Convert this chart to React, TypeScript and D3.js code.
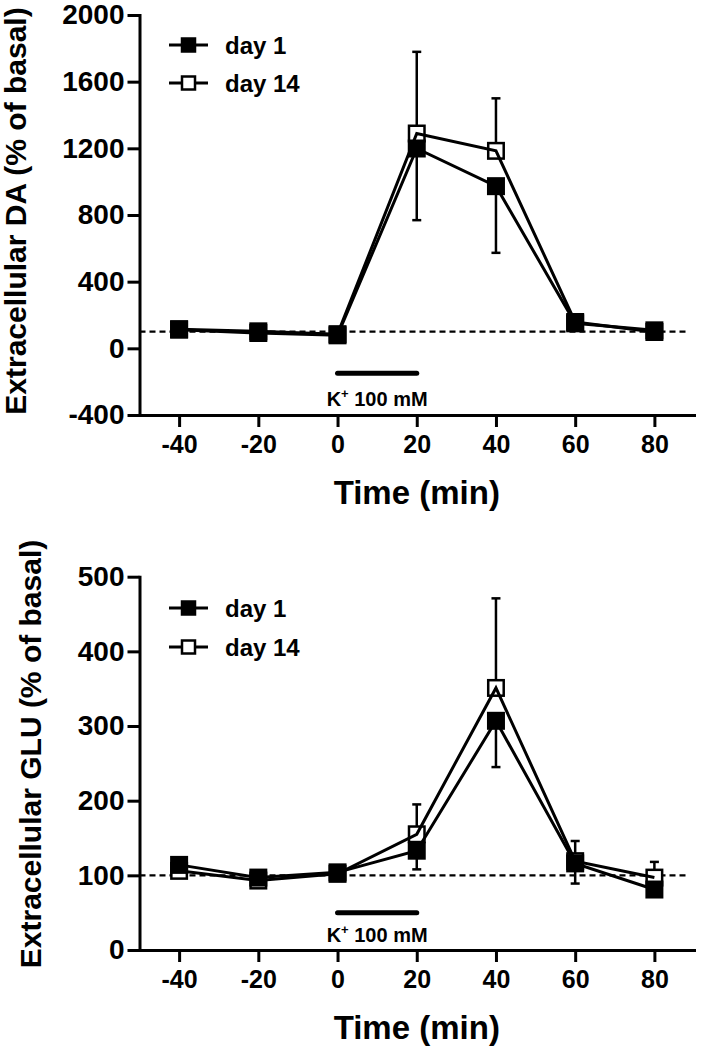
import React, { useEffect, useRef } from 'react';
import * as d3 from 'd3';

// ---------- data ----------
const timePoints = [-40, -20, 0, 20, 40, 60, 80];
const xTicks = [-40, -20, 0, 20, 40, 60, 80];
const xDomain = [-50, 90];
const seriesNames = ['day 1', 'day 14'];

// day 1 error bars are drawn downward, day 14 upward (as in the reference)
const daDay1 = [112, 92, 78, 1199, 973, 150, 108];
const daDay1Err = [20, 15, 15, 430, 400, 25, 15];
const daDay14 = [115, 102, 85, 1289, 1185, 158, 98];
const daDay14Err = [20, 15, 15, 490, 315, 25, 15];
const daTicks = [-400, 0, 400, 800, 1200, 1600, 2000];

const gluDay1 = [114, 97, 104, 133, 307, 116, 81];
const gluDay1Err = [6, 5, 5, 25, 62, 27, 8];
const gluDay14 = [106, 93, 102, 155, 351, 119, 97];
const gluDay14Err = [6, 5, 5, 40, 120, 27, 21];
const gluTicks = [0, 100, 200, 300, 400, 500];

const basal = 100;
const basalEnd = 88;
const kWindow = [0, 20];

const FONT = '"Liberation Sans", Arial, Helvetica, sans-serif';

interface PanelCfg {
  yDomain: [number, number];
  yRange: [number, number];
  yTicks: number[];
  title: string;
  titleX: number;
  titleY: number;
  kBarValue: number;
  kLabelOffset: number;
  legendY: [number, number];
  d1: number[];
  d1e: number[];
  d14: number[];
  d14e: number[];
}

const panels: PanelCfg[] = [
  {
    yDomain: [-400, 2000],
    yRange: [415, 15],
    yTicks: daTicks,
    title: 'Extracellular DA (% of basal)',
    titleX: 26,
    titleY: 211,
    kBarValue: -150,
    kLabelOffset: 9.5,
    legendY: [45, 83],
    d1: daDay1,
    d1e: daDay1Err,
    d14: daDay14,
    d14e: daDay14Err,
  },
  {
    yDomain: [0, 500],
    yRange: [950, 576.7],
    yTicks: gluTicks,
    title: 'Extracellular GLU (% of basal)',
    titleX: 41,
    titleY: 754,
    kBarValue: 50,
    kLabelOffset: 8.5,
    legendY: [608, 647],
    d1: gluDay1,
    d1e: gluDay1Err,
    d14: gluDay14,
    d14e: gluDay14Err,
  },
];

function drawPanel(svg: d3.Selection<SVGSVGElement, unknown, null, undefined>, cfg: PanelCfg) {
  const x = d3.scaleLinear().domain(xDomain).range([139.5, 694]);
  const y = d3.scaleLinear().domain(cfg.yDomain).range(cfg.yRange);
  const g = svg.append('g');
  const axisY = y(cfg.yDomain[0]);

  // basal dashed line
  g.append('line')
    .attr('x1', x(xDomain[0]))
    .attr('x2', x(basalEnd))
    .attr('y1', y(basal))
    .attr('y2', y(basal))
    .attr('stroke', '#000')
    .attr('stroke-width', 2.2)
    .attr('stroke-dasharray', '6,4');

  // K+ bar
  g.append('line')
    .attr('x1', x(kWindow[0]))
    .attr('x2', x(kWindow[1]))
    .attr('y1', y(cfg.kBarValue))
    .attr('y2', y(cfg.kBarValue))
    .attr('stroke', '#000')
    .attr('stroke-width', 5)
    .attr('stroke-linecap', 'round');

  const kt = g
    .append('text')
    .attr('x', x((kWindow[0] + kWindow[1]) / 2))
    .attr('y', axisY - cfg.kLabelOffset)
    .attr('text-anchor', 'middle')
    .attr('font-family', FONT)
    .attr('font-weight', 'bold')
    .attr('font-size', 20)
    .attr('fill', '#000');
  kt.append('tspan').text('K');
  kt.append('tspan').attr('font-size', 13).attr('dy', -8).text('+');
  kt.append('tspan').attr('dy', 8).text(' 100 mM');

  // axes
  const yAxis = d3
    .axisLeft(y)
    .tickValues(cfg.yTicks)
    .tickSize(12)
    .tickSizeOuter(0)
    .tickPadding(3)
    .tickFormat((d) => String(d));
  const gy = g.append('g').attr('transform', `translate(${x(xDomain[0])},0)`).call(yAxis);
  const xAxis = d3
    .axisBottom(x)
    .tickValues(xTicks)
    .tickSize(12)
    .tickSizeOuter(0)
    .tickPadding(8)
    .tickFormat((d) => String(d));
  const gx = g.append('g').attr('transform', `translate(0,${axisY})`).call(xAxis);

  [gy, gx].forEach((ga) => {
    ga.attr('font-family', FONT);
    ga.selectAll('line').attr('stroke', '#000').attr('stroke-width', 3);
    ga.select('.domain').attr('stroke', '#000').attr('stroke-width', 3).attr('stroke-linecap', 'square');
    ga.selectAll('text').attr('fill', '#000').attr('font-weight', 'bold');
  });
  gy.selectAll('text').attr('font-size', 28);
  gx.selectAll('text').attr('font-size', 25);

  // titles
  g.append('text')
    .attr('transform', `translate(${cfg.titleX},${cfg.titleY}) rotate(-90)`)
    .attr('text-anchor', 'middle')
    .attr('font-family', FONT)
    .attr('font-weight', 'bold')
    .attr('font-size', 30)
    .attr('fill', '#000')
    .text(cfg.title);
  g.append('text')
    .attr('x', (x.range()[0] + x.range()[1]) / 2)
    .attr('y', axisY + 89)
    .attr('text-anchor', 'middle')
    .attr('font-family', FONT)
    .attr('font-weight', 'bold')
    .attr('font-size', 33)
    .attr('fill', '#000')
    .text('Time (min)');

  const series = [
    { vals: cfg.d14, errs: cfg.d14e, filled: false, dir: 1 },
    { vals: cfg.d1, errs: cfg.d1e, filled: true, dir: -1 },
  ];

  // error bars (one-sided)
  series.forEach((s) => {
    s.vals.forEach((v, i) => {
      const cx = x(timePoints[i]);
      const y0 = y(v);
      const y1 = y(v + s.dir * s.errs[i]);
      g.append('line').attr('x1', cx).attr('x2', cx).attr('y1', y0).attr('y2', y1).attr('stroke', '#000').attr('stroke-width', 2.5);
      g.append('line').attr('x1', cx - 4.5).attr('x2', cx + 4.5).attr('y1', y1).attr('y2', y1).attr('stroke', '#000').attr('stroke-width', 2.5);
    });
  });

  const line = d3
    .line<number>()
    .x((_, i) => x(timePoints[i]))
    .y((v) => y(v));

  const side = 15.5;
  const drawMarkers = (vals: number[], filled: boolean) => {
    g.append('g')
      .selectAll('rect')
      .data(vals)
      .join('rect')
      .attr('x', (_, i) => x(timePoints[i]) - side / 2)
      .attr('y', (v) => y(v) - side / 2)
      .attr('width', side)
      .attr('height', side)
      .attr('fill', filled ? '#000' : '#fff')
      .attr('stroke', '#000')
      .attr('stroke-width', 2.5);
  };

  // open markers, then lines, then filled markers
  drawMarkers(cfg.d14, false);
  series.forEach((s) => {
    g.append('path').attr('d', line(s.vals)).attr('fill', 'none').attr('stroke', '#000').attr('stroke-width', 3);
  });
  drawMarkers(cfg.d1, true);

  // legend
  seriesNames.forEach((name, k) => {
    const ly = cfg.legendY[k];
    const filled = k === 0;
    g.append('line').attr('x1', 169).attr('x2', 208).attr('y1', ly).attr('y2', ly).attr('stroke', '#000').attr('stroke-width', 3);
    g.append('rect')
      .attr('x', 188.5 - 6.5)
      .attr('y', ly - 6.5)
      .attr('width', 13)
      .attr('height', 13)
      .attr('fill', filled ? '#000' : '#fff')
      .attr('stroke', '#000')
      .attr('stroke-width', 2.5);
    g.append('text')
      .attr('x', 225)
      .attr('y', ly + 9)
      .attr('font-family', FONT)
      .attr('font-weight', 'bold')
      .attr('font-size', 24)
      .attr('fill', '#000')
      .text(name);
  });
}

export default function App() {
  const ref = useRef<SVGSVGElement>(null);
  useEffect(() => {
    if (!ref.current) return;
    const svg = d3.select(ref.current);
    svg.selectAll('*').remove();
    panels.forEach((p) => drawPanel(svg, p));
  }, []);
  return (
    <svg
      ref={ref}
      width={701}
      height={1050}
      viewBox="0 0 701 1050"
      style={{ position: 'absolute', left: 0, top: 0, background: '#fff' }}
    />
  );
}
